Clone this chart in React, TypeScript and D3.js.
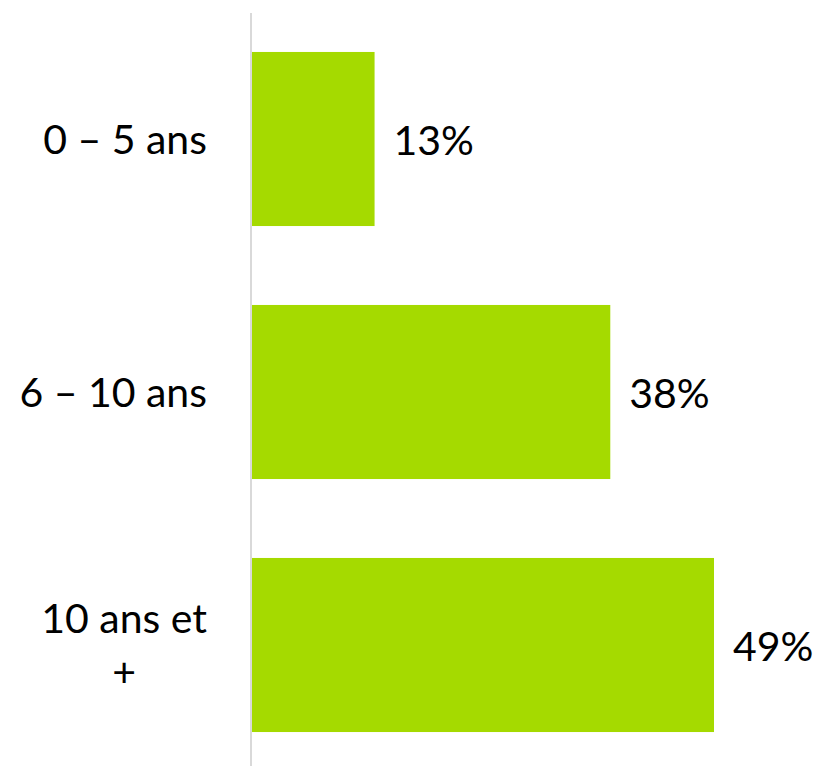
import React, { useEffect, useRef } from "react";
import * as d3 from "d3";

const categories = ["0 – 5 ans", "6 – 10 ans", "10 ans et +"];
const labelLines = [["0 – 5 ans"], ["6 – 10 ans"], ["10 ans et", "+"]];
const values = [13, 38, 49];

const W = 815;
const H = 766;

export default function App() {
  const ref = useRef<SVGSVGElement>(null);

  useEffect(() => {
    const svg = d3.select(ref.current);
    svg.selectAll("*").remove();

    const x = d3.scaleLinear().domain([0, 49]).range([252, 714]);
    const y = d3
      .scaleBand<string>()
      .domain(categories)
      .range([12.5, 771.5])
      .paddingInner(0.312)
      .paddingOuter(0.156);

    const font = "Lato, 'Noto Sans', sans-serif";
    const fs = 41;

    svg
      .selectAll("rect.bar")
      .data(values)
      .join("rect")
      .attr("class", "bar")
      .attr("x", x(0))
      .attr("y", (_, i) => y(categories[i])!)
      .attr("width", (d) => x(d) - x(0))
      .attr("height", y.bandwidth())
      .attr("fill", "#a5da00");

    svg
      .append("line")
      .attr("x1", 251)
      .attr("x2", 251)
      .attr("y1", 13)
      .attr("y2", H)
      .attr("stroke", "#d9d9d9")
      .attr("stroke-width", 2);

    svg
      .selectAll("text.val")
      .data(values)
      .join("text")
      .attr("class", "val")
      .attr("x", (d) => x(d) + 19)
      .attr("y", (_, i) => y(categories[i])! + y.bandwidth() / 2 + 6)
      .attr("dominant-baseline", "middle")
      .attr("font-family", font)
      .attr("font-size", fs)
      .attr("fill", "#000")
      .text((d) => `${d}%`);

    const lineH = 54;
    labelLines.forEach((lines, i) => {
      const cy = y(categories[i])! + y.bandwidth() / 2;
      const g = svg.append("g");
      const texts = lines.map((ln, j) =>
        g
          .append("text")
          .attr("y", cy + (j - (lines.length - 1) / 2) * lineH + 5)
          .attr("dominant-baseline", "middle")
          .attr("text-anchor", "middle")
          .attr("font-family", font)
          .attr("font-size", fs)
          .attr("fill", "#000")
          .text(ln)
      );
      const widths = texts.map((t) => (t.node() as SVGTextElement).getComputedTextLength());
      const maxW = Math.max(...widths);
      texts.forEach((t) => t.attr("x", 207 - maxW / 2));
    });
  }, []);

  return (
    <svg
      ref={ref}
      width={W}
      height={H}
      style={{ position: "absolute", left: 0, top: 0, background: "#fff" }}
    />
  );
}
